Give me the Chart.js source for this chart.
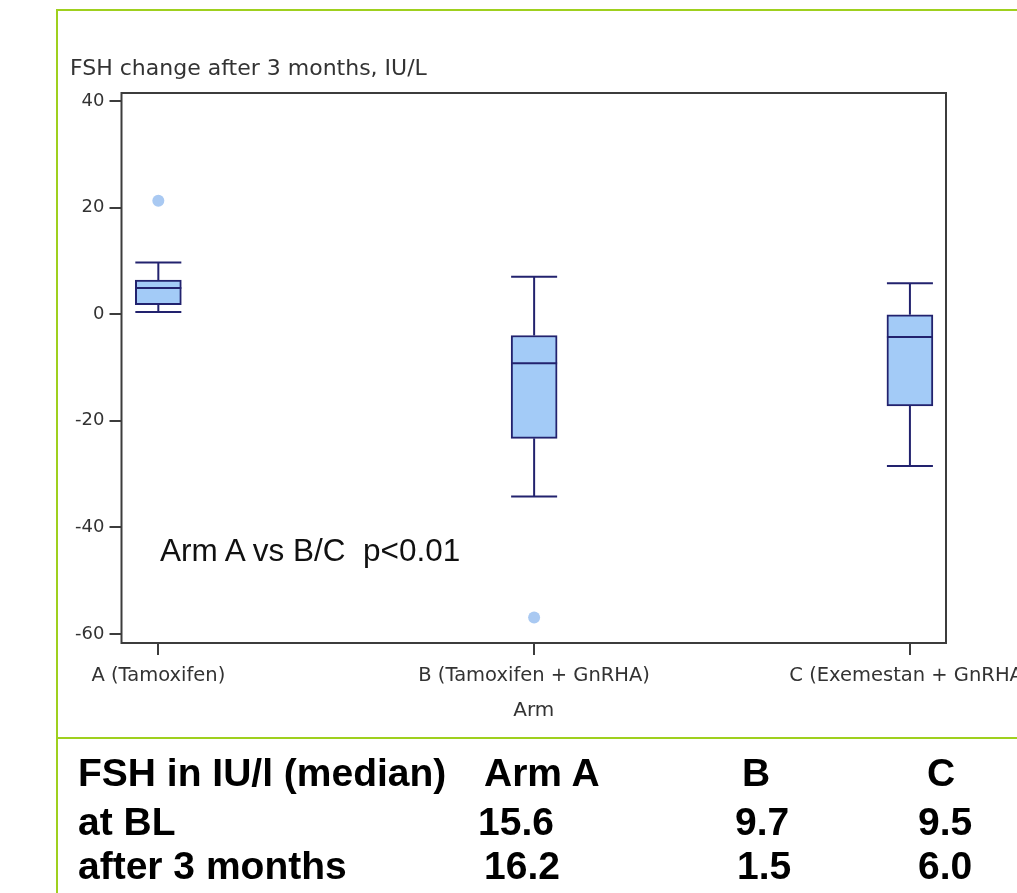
<!DOCTYPE html>
<html>
<head>
<meta charset="utf-8">
<script src="https://cdn.jsdelivr.net/npm/chart.js@4"></script>
<style>
  html, body { margin: 0; padding: 0; background: #fff; }
  #wrap { position: relative; width: 1017px; height: 893px; overflow: hidden; font-family: "Liberation Sans", Arial, sans-serif; }
  #chart { position: absolute; left: 0; top: 0; }
  .gl { position: absolute; background: #9fd01e; }
  .t { position: absolute; white-space: nowrap; }
  .ytitle { left: 70px; top: 55px; font-family: "DejaVu Sans", sans-serif; font-size: 22px; color: #333; }
  .note { left: 160px; top: 532px; font-size: 31.5px; color: #111; }
  .tb { font-size: 39px; font-weight: bold; color: #000; line-height: 38px; }
</style>
</head>
<body>
<div id="wrap">
  <canvas id="chart" width="1017" height="893"></canvas>
  <div class="gl" style="left:56px; top:9px; width:961px; height:2px;"></div>
  <div class="gl" style="left:56px; top:9px; width:2px; height:884px;"></div>
  <div class="gl" style="left:56px; top:737px; width:961px; height:2px;"></div>

  <div class="t ytitle">FSH change after 3 months, IU/L</div>
  <div class="t note">Arm A vs B/C&nbsp; p&lt;0.01</div>

  <div class="t tb" style="left:78px; top:754px;">FSH in IU/l (median)</div>
  <div class="t tb" style="left:484px; top:754px;">Arm A</div>
  <div class="t tb" style="left:742px; top:754px;">B</div>
  <div class="t tb" style="left:927px; top:754px;">C</div>

  <div class="t tb" style="left:78px; top:803px;">at BL</div>
  <div class="t tb" style="left:478px; top:803px;">15.6</div>
  <div class="t tb" style="left:735px; top:803px;">9.7</div>
  <div class="t tb" style="left:918px; top:803px;">9.5</div>

  <div class="t tb" style="left:78px; top:847px;">after 3 months</div>
  <div class="t tb" style="left:484px; top:847px;">16.2</div>
  <div class="t tb" style="left:737px; top:847px;">1.5</div>
  <div class="t tb" style="left:918px; top:847px;">6.0</div>
</div>
<script>
// Treatment arms and the five-number summary of FSH change per arm
const arms = ['A (Tamoxifen)', 'B (Tamoxifen + GnRHA)', 'C (Exemestan + GnRHA)'];
const whiskerLow  = [0.4, -34.2, -28.5];
const quartile1   = [1.8, -23.3, -17.2];
const medians     = [4.9, -9.2, -4.3];
const quartile3   = [6.4, -4.0, -0.1];
const whiskerHigh = [9.7, 7.0, 5.8];
// Outlying observations: arm index and value
const outlierArm   = [0, 1];
const outlierValue = [21.3, -56.9];
const yTicks = [40, 20, 0, -20, -40, -60];

const boxFill = '#a3cbf7';
const boxLine = '#22226e';
const frameColor = '#3c3c3c';
const BOX_W = 46;
const axisFont = 'DejaVu Sans';

// Whiskers, caps and median lines drawn through the chart's scales
const whiskerPlugin = {
  id: 'whiskers',
  afterDatasetsDraw(chart) {
    const { ctx, scales: { x, y } } = chart;
    ctx.save();
    ctx.strokeStyle = boxLine;
    ctx.lineWidth = 2;
    arms.forEach((_, i) => {
      const cx = x.getPixelForValue(i);
      const half = BOX_W / 2;
      const seg = (x1, y1, x2, y2) => { ctx.beginPath(); ctx.moveTo(x1, y1); ctx.lineTo(x2, y2); ctx.stroke(); };
      const yHi = y.getPixelForValue(whiskerHigh[i]);
      const yQ3 = y.getPixelForValue(quartile3[i]);
      const yQ1 = y.getPixelForValue(quartile1[i]);
      const yLo = y.getPixelForValue(whiskerLow[i]);
      const yMd = y.getPixelForValue(medians[i]);
      seg(cx, yHi, cx, yQ3);
      seg(cx, yQ1, cx, yLo);
      seg(cx - half, yHi, cx + half, yHi);
      seg(cx - half, yLo, cx + half, yLo);
      seg(cx - half, yMd, cx + half, yMd);
    });
    ctx.restore();
  },
  afterDraw(chart) {
    const { ctx, chartArea: a } = chart;
    ctx.save();
    ctx.strokeStyle = frameColor;
    ctx.lineWidth = 2;
    ctx.strokeRect(a.left, a.top, a.right - a.left, a.bottom - a.top);
    ctx.restore();
  }
};

const boxData = arms.map((_, i) => ({ x: i, y: [quartile1[i], quartile3[i]] }));
const outlierData = outlierArm.map((a, k) => ({ x: a, y: outlierValue[k] }));

new Chart(document.getElementById('chart'), {
  type: 'bar',
  data: {
    datasets: [
      {
        type: 'scatter',
        data: outlierData,
        pointRadius: 6,
        pointHoverRadius: 6,
        backgroundColor: '#a9c9f2',
        borderColor: '#a9c9f2',
        borderWidth: 0,
        order: 0
      },
      {
        type: 'bar',
        data: boxData,
        backgroundColor: boxFill,
        borderColor: boxLine,
        borderWidth: 2,
        borderSkipped: false,
        barThickness: BOX_W,
        order: 1
      }
    ]
  },
  plugins: [whiskerPlugin],
  options: {
    responsive: false,
    animation: false,
    events: [],
    layout: { padding: { left: 57, right: 71, top: 93, bottom: 165 } },
    plugins: { legend: { display: false }, tooltip: { enabled: false } },
    scales: {
      x: {
        type: 'linear',
        offset: false,
        min: -0.098,
        max: 2.096,
        afterBuildTicks: s => { s.ticks = arms.map((_, i) => ({ value: i })); },
        afterFit: s => { s.height = 85; s.paddingLeft = 0; s.paddingRight = 0; },
        border: { display: false },
        grid: { offset: false, drawOnChartArea: false, drawTicks: true, tickLength: 12, color: '#3c3c3c', lineWidth: 2 },
        ticks: {
          autoSkip: false, maxRotation: 0, minRotation: 0, padding: 9,
          color: '#333',
          font: { family: axisFont, size: 19.5 },
          callback: v => arms[v]
        },
        title: {
          display: true, text: 'Arm', color: '#333',
          font: { family: axisFont, size: 20 },
          padding: { top: 0, bottom: 5 }
        }
      },
      y: {
        min: -61.7,
        max: 41.5,
        afterBuildTicks: s => { s.ticks = yTicks.map(v => ({ value: v })); },
        afterFit: s => { s.width = 64.5; },
        border: { display: false },
        grid: { drawOnChartArea: false, drawTicks: true, tickLength: 12, color: '#3c3c3c', lineWidth: 2 },
        ticks: {
          padding: 5, color: '#333',
          font: { family: axisFont, size: 18 }
        }
      }
    }
  }
});
</script>
</body>
</html>
